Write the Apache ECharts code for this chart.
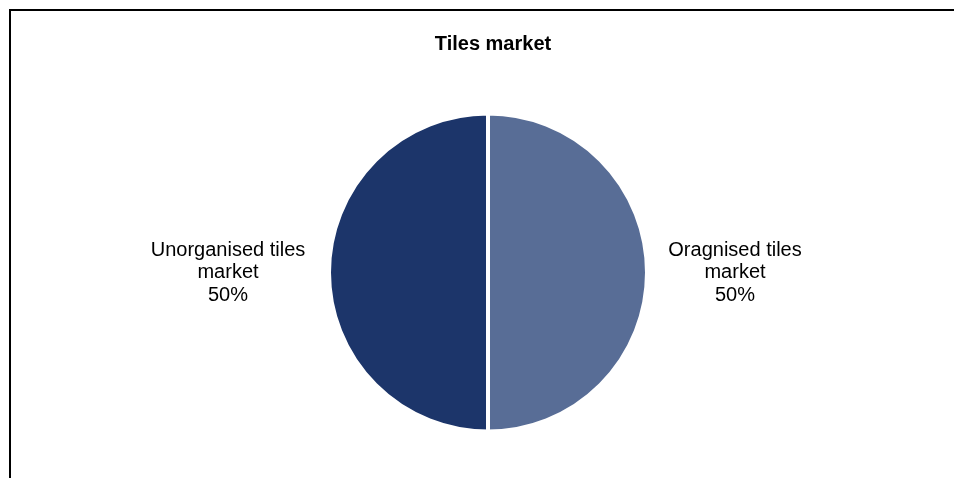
<!DOCTYPE html>
<html>
<head>
<meta charset="utf-8">
<script src="https://cdn.jsdelivr.net/npm/echarts@6/dist/echarts.min.js"></script>
<style>
  html, body { margin: 0; padding: 0; background: #ffffff; }
  #chart { width: 954px; height: 478px; }
</style>
</head>
<body>
<div id="chart"></div>
<script>
// Market split between organised and unorganised tile makers
const titleText = 'Tiles market';
const segmentNames = ['Oragnised tiles\nmarket', 'Unorganised tiles\nmarket'];
const segmentShares = [50, 50];
const segmentColors = ['#586d96', '#1c356a'];

const chart = echarts.init(document.getElementById('chart'), null, { renderer: 'canvas' });

const font = '"Liberation Sans", Arial, sans-serif';
const pieCenter = [488, 272.5];
const pieRadius = 159;
// horizontal distance from pie centre to each label's centre (right, left)
const labelOffsets = [247, -260];

chart.setOption({
  animation: false,
  backgroundColor: '#ffffff',
  title: {
    text: titleText,
    left: pieCenter[0],
    textAlign: 'center',
    top: 29,
    textStyle: { fontFamily: font, fontSize: 20, fontWeight: 'bold', color: '#000000' }
  },
  graphic: [{
    type: 'rect',
    shape: { x: 10, y: 10, width: 980, height: 500 },
    style: { fill: 'none', stroke: '#000000', lineWidth: 2 },
    silent: true
  }],
  series: [{
    type: 'pie',
    center: pieCenter,
    radius: [0, pieRadius],
    startAngle: 90,
    clockwise: true,
    data: segmentNames.map((n, i) => ({
      name: n,
      value: segmentShares[i],
      itemStyle: { color: segmentColors[i] }
    })),
    itemStyle: { borderColor: '#ffffff', borderWidth: 4 },
    label: {
      show: true,
      position: 'outside',
      formatter: p => p.name + '\n' + p.value + '%',
      fontFamily: font,
      fontSize: 20,
      lineHeight: 22.5,
      color: '#000000',
      align: 'center'
    },
    labelLine: { show: false },
    labelLayout: function (params) {
      return {
        x: pieCenter[0] + labelOffsets[params.dataIndex],
        y: pieCenter[1],
        align: 'center',
        verticalAlign: 'middle'
      };
    }
  }]
});
</script>
</body>
</html>
